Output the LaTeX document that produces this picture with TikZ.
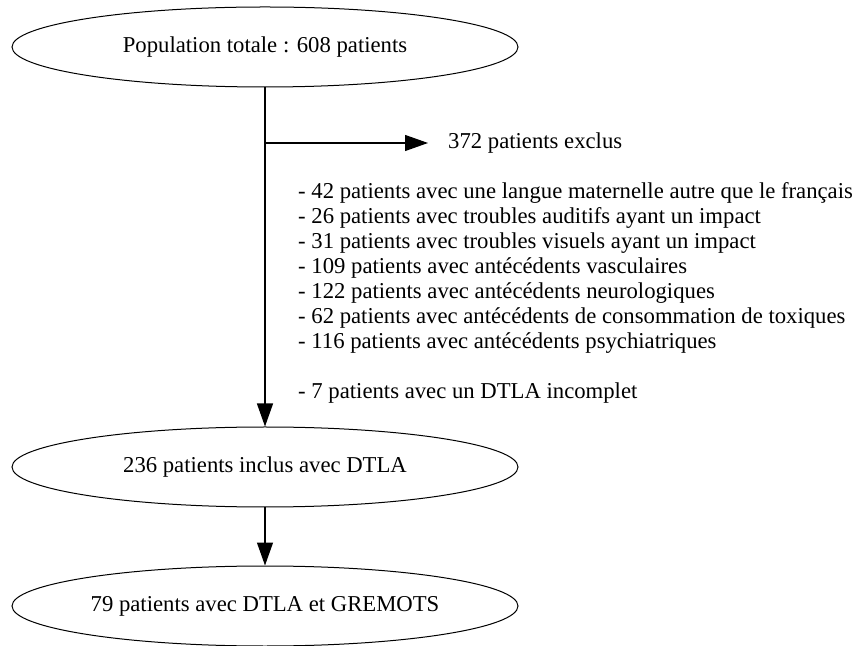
\documentclass[tikz,border=0pt]{standalone}
\usepackage{fontspec}
\setmainfont{Liberation Serif}
\usetikzlibrary{arrows.meta}
\usetikzlibrary{shapes.geometric}

\tikzset{
    etape/.style={draw, ellipse, line width=1pt, inner sep=0pt, minimum width=506pt, minimum height=80pt, font=\fontsize{22.7}{25.1}\selectfont},
    fleche/.style={line width=1.2pt, -{Triangle[length=23pt, width=16pt]}},
    texte/.style={inner sep=0pt, font=\fontsize{22.7}{25.1}\selectfont}
}

\begin{document}
\begin{tikzpicture}[x=1pt, y=1pt]
        \def\xc{265}
        \useasboundingbox (0,0) rectangle (861,645);

        % Ellipses
        \node[etape] (pop) at (\xc,598) {Population totale : 608 patients};
        \node[etape] (inclus) at (\xc,178) {236 patients inclus avec DTLA};
        \node[etape] (gremots) at (\xc,39) {79 patients avec DTLA et GREMOTS};

        % Exclusions
        \coordinate (branche) at (\xc,502);
        \node[texte, anchor=west, inner xsep=20pt] (exclus) at (428,502) {372 patients exclus};
        \node[texte, anchor=north west, align=left] (motifs) at (298,463) {- 42 patients avec une langue maternelle autre que le français\\
            - 26 patients avec troubles auditifs ayant un impact\\
            - 31 patients avec troubles visuels ayant un impact\\
            - 109 patients avec antécédents vasculaires\\
            - 122 patients avec antécédents neurologiques\\
            - 62 patients avec antécédents de consommation de toxiques\\
            - 116 patients avec antécédents psychiatriques\\[25.1pt]
            - 7 patients avec un DTLA incomplet};

        % Arrows
        \draw[fleche] (pop) -- (inclus);
        \draw[fleche] (branche) -- (exclus);
        \draw[fleche] (inclus) -- (gremots);
\end{tikzpicture}
\end{document}
